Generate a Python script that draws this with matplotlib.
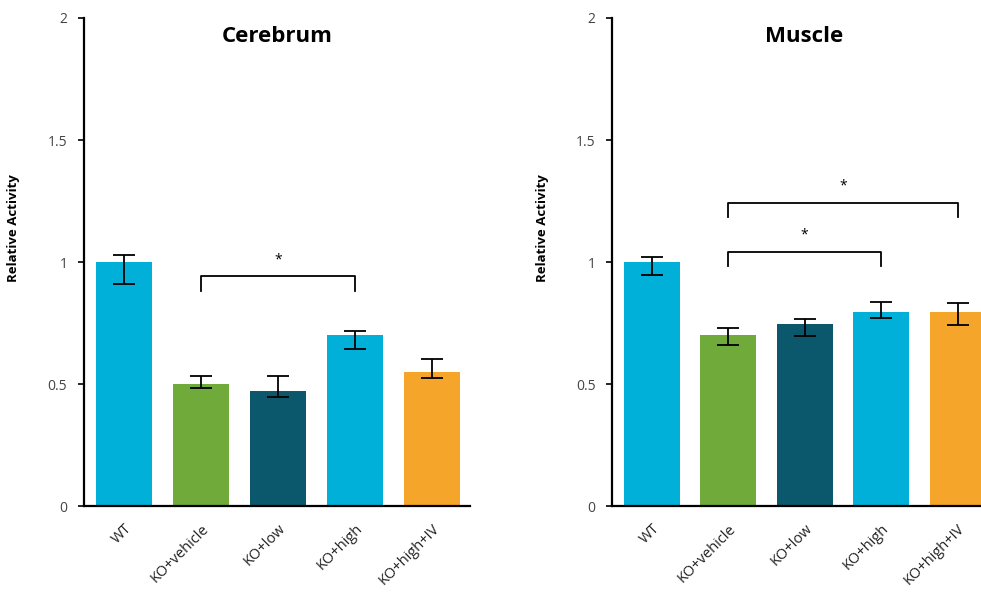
import numpy as np
import matplotlib.pyplot as plt

# data
groups = ["WT", "KO+vehicle", "KO+low", "KO+high", "KO+high+IV"]
colors = ["#00B0D8", "#70AA3A", "#0B586C", "#00B0D8", "#F5A52A"]

cer_mean = [1.00, 0.50, 0.47, 0.70, 0.55]
cer_lo = [0.91, 0.483, 0.449, 0.642, 0.525]
cer_hi = [1.03, 0.532, 0.532, 0.717, 0.601]

mus_mean = [1.00, 0.70, 0.745, 0.795, 0.795]
mus_lo = [0.946, 0.662, 0.698, 0.769, 0.742]
mus_hi = [1.021, 0.729, 0.765, 0.836, 0.831]

# significance brackets: (from, to, bar height, drop to, star height)
cer_sig = [(1, 3, 0.943, 0.883, 1.01)]
mus_sig = [(1, 3, 1.043, 0.985, 1.11), (1, 4, 1.24, 1.186, 1.31)]

plt.rcParams["font.family"] = ["Open Sans", "DejaVu Sans"]

fig = plt.figure(figsize=(9.81, 5.99), dpi=100)
ax1 = fig.add_axes([0.0856, 0.155, 0.394, 0.815])
ax2 = fig.add_axes([0.624, 0.155, 0.391, 0.815])


def draw(ax, title, mean, lo, hi, sig):
    x = np.arange(len(groups))
    mean = np.array(mean)
    yerr = [mean - np.array(lo), np.array(hi) - mean]
    ax.bar(x, mean, width=0.73, color=colors, zorder=2)
    ax.errorbar(x, mean, yerr=yerr, fmt="none", ecolor="black",
                elinewidth=1.3, capsize=8, capthick=1.3, zorder=3)
    for a, b, top, drop, star in sig:
        ax.plot([a, a, b, b], [drop, top, top, drop], color="black", lw=1.3)
        ax.text((a + b) / 2, star, "*", ha="center", va="center", fontsize=10)
    ax.set_xlim(-0.52, 4.5)
    ax.set_ylim(0, 2)
    ax.set_yticks([0, 0.5, 1, 1.5, 2])
    ax.set_yticklabels(["0", "0.5", "1", "1.5", "2"])
    ax.set_xticks(x)
    ax.set_xticklabels(groups, rotation=45, ha="right", rotation_mode="anchor")
    ax.tick_params(axis="x", length=0, labelsize=10.5, pad=11, labelcolor="#222222")
    ax.tick_params(axis="y", length=4, width=1.2, labelsize=10, pad=8,
                   color="black", labelcolor="#444444")
    for s in ["top", "right"]:
        ax.spines[s].set_visible(False)
    for s in ["left", "bottom"]:
        ax.spines[s].set_linewidth(1.6)
    ax.set_ylabel("Relative Activity", fontsize=9.5, fontweight="bold")
    ax.yaxis.set_label_coords(-0.165, 0.57)
    ax.text(0.5, 0.962, title, transform=ax.transAxes, ha="center", va="center",
            fontsize=16, fontweight="bold")


draw(ax1, "Cerebrum", cer_mean, cer_lo, cer_hi, cer_sig)
draw(ax2, "Muscle", mus_mean, mus_lo, mus_hi, mus_sig)

fig.savefig("out.png", dpi=100)
